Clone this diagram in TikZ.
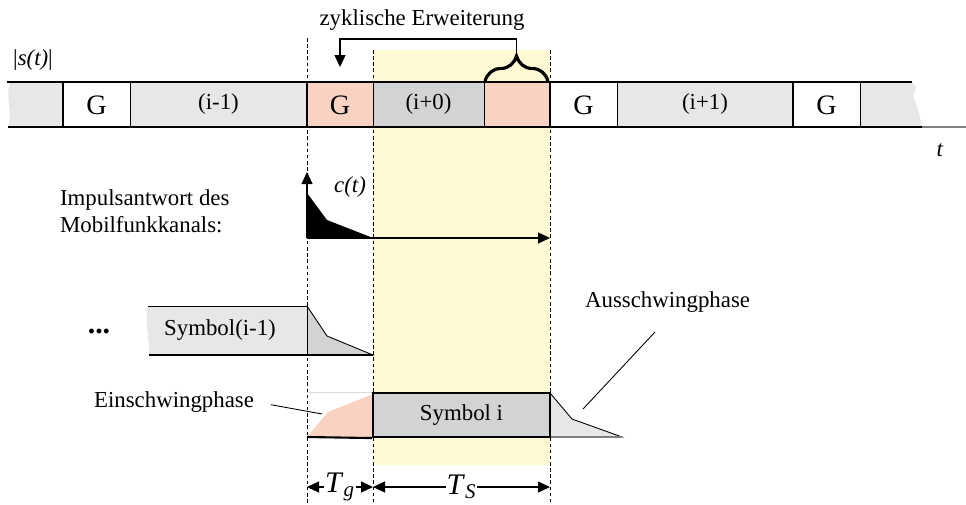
\documentclass[tikz,border=0pt]{standalone}
\usepackage{fontspec}
\setmainfont{Liberation Serif}
\usetikzlibrary{arrows.meta,decorations.pathreplacing}
\definecolor{salmon}{RGB}{249,210,193}
\definecolor{paper}{RGB}{230,231,232}
\definecolor{slate}{RGB}{209,211,212}
\definecolor{cream}{RGB}{255,249,212}
\tikzset{
  >={Triangle[length=2.4mm,width=2.2mm]},
  lbl/.style={font=\fontsize{13}{15.3}\selectfont,inner sep=1pt},
  glbl/.style={font=\fontsize{16}{18}\selectfont,inner sep=1pt},
  dimlbl/.style={font=\fontsize{17}{18}\selectfont,fill=white,inner sep=0.5pt},
  heavy/.style={line width=1.2pt},
  fine/.style={line width=0.5pt},
  guide/.style={dash pattern=on 2pt off 1.5pt,line width=0.5pt},
  lead/.style={line width=0.5pt},
}
\begin{document}
\begin{tikzpicture}[x=0.02cm,y=-0.02cm]
  \useasboundingbox (0,0) rectangle (966,504);
  % Bereich Symbol i
  \fill[cream] (373,50) rectangle (550,465);
  % Signal |s(t)|
  \fill[paper] (10,82) .. controls (5,95) and (13,112) .. (8,127) -- (63,127) -- (63,82) -- cycle;
  \fill[white] (63,82) rectangle (130,127);
  \fill[paper] (130,82) rectangle (307,127);
  \fill[salmon] (307,82) rectangle (373,127);
  \fill[slate] (373,82) rectangle (484,127);
  \fill[salmon] (484,82) rectangle (550,127);
  \fill[white] (550,82) rectangle (617,127);
  \fill[paper] (617,82) rectangle (793,127);
  \fill[white] (793,82) rectangle (860,127);
  \fill[paper] (860,82) -- (912,82) -- (916,87) -- (913,96) .. controls (918,108) .. (922,127) -- (860,127) -- cycle;
  \foreach \x in {130,373,484,617,860} \draw[fine] (\x,82) -- (\x,127);
  \foreach \x in {63,307,550,793} \draw[heavy] (\x,82) -- (\x,127);
  \draw[heavy] (7,82) -- (912,82);
  \draw[heavy] (8,127) -- (922,127);
  \draw[gray,line width=0.8pt] (922,127) -- (966,127);
  \node[glbl] (g1) at (96.5,105) {G};
  \node[lbl] (s1) at (218.5,104) {(i-1)};
  \node[glbl] (g2) at (340,105) {G};
  \node[lbl] (s2) at (428.5,104) {(i+0)};
  \node[glbl] (g3) at (583.5,105) {G};
  \node[lbl] (s3) at (705,104) {(i+1)};
  \node[glbl] (g4) at (826.5,105) {G};
  \node[lbl] (sig) at (33,60) {|\textit{s(t)}|};
  \node[lbl] (time) at (940,150) {\textit{t}};
  % zyklische Erweiterung
  \node[lbl] (zyk) at (422,20) {zyklische Erweiterung};
  \draw[decorate,decoration={brace,amplitude=0.5cm,aspect=0.5},line width=1.8pt] (485,81) -- (548,81);
  \coordinate (tip) at (516.5,55);
  \coordinate (gin) at (340,67);
  \draw[line width=0.8pt,->] (tip) -- ++(0,-16) -| (gin);
  % Hilfslinien
  \draw[guide] (307,38) -- (307,504);
  \draw[guide] (373,50) -- (373,504);
  \draw[guide] (550,50) -- (550,504);
  % Impulsantwort
  \coordinate (o) at (307,238);
  \fill (o) -- (307,193) -- (327,220) -- (373,238) -- cycle;
  \draw[->,line width=0.6pt] (o) -- (307,172);
  \draw[->,line width=0.6pt] (o) -- (550,238);
  \node[lbl] (ct) at (350,187) {\textit{c(t)}};
  \node[lbl,align=left,anchor=west] (imp) at (58,211) {Impulsantwort des\\Mobilfunkkanals:};
  % Symbol(i-1)
  \fill[paper] (148,306) .. controls (144,320) and (150,340) .. (149,355) -- (307,355) -- (307,306) -- cycle;
  \filldraw[fill=slate,fine] (307,306) -- (327,336) -- (373,355) -- (307,355);
  \draw[fine] (148,306) -- (307,306) -- (307,355);
  \draw[line width=0.9pt] (149,355) -- (373,355);
  \node[lbl] (prev) at (220,330) {Symbol(i-1)};
  \node[font=\fontsize{17}{18}\selectfont\bfseries] (dots) at (99,331) {...};
  % Symbol i
  \fill[salmon] (307,437) -- (328,412) -- (373,394) -- (373,437) -- cycle;
  \draw[black!15,fine] (307,392) -- (373,392);
  \filldraw[fill=paper,fine] (550,393) -- (572,419) -- (622,437) -- (550,437);
  \draw[gray,line width=0.8pt] (550,437) -- (622,437);
  \node[lbl,draw,heavy,fill=slate,minimum width=3.54cm,minimum height=0.88cm] (cur) at (461.5,415) {Symbol i};
  \draw[heavy] (307,437) -- (cur.south west);
  \node[lbl,anchor=west] (ein) at (92,402) {Einschwingphase};
  \coordinate (einpt) at (322,414);
  \draw[lead,shorten <=3mm] (ein.east) -- (einpt);
  \node[lbl,anchor=west] (aus) at (583,302) {Ausschwingphase};
  \coordinate (ausA) at (655,332);
  \coordinate (ausB) at (583,409);
  \draw[lead] (ausA) -- (ausB);
  % Zeitdauern
  \coordinate (dg) at (307,487);
  \coordinate (dm) at (373,487);
  \coordinate (ds) at (550,487);
  \draw[<->,line width=0.6pt] (dg) -- node[dimlbl] (tg) {\textit{T}\textsubscript{\textit{g}}} (dm);
  \draw[<->,line width=0.6pt] (dm) -- node[dimlbl] (ts) {\textit{T}\textsubscript{\textit{S}}} (ds);
\end{tikzpicture}
\end{document}
